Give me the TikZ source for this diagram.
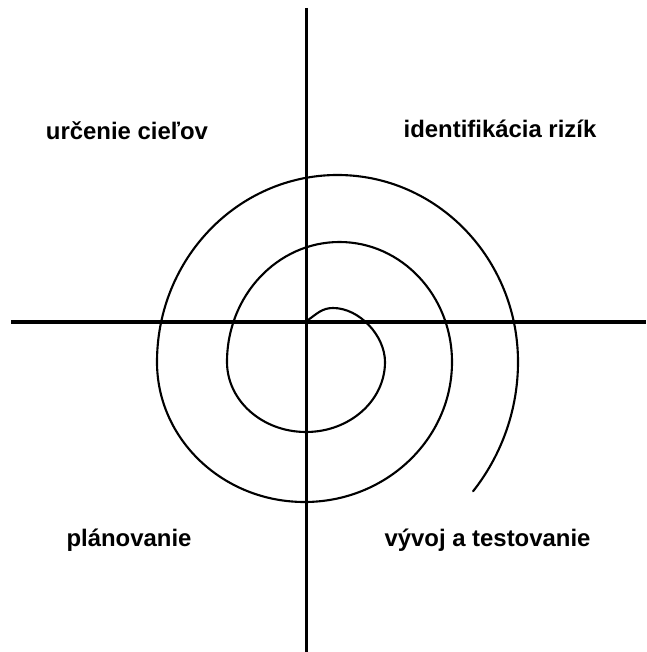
\documentclass[tikz,border=0pt]{standalone}
\usepackage{fontspec}
\setmainfont{Liberation Sans}
\usepackage{tikz}

\tikzset{
  axis/.style={line width=2.8pt,black},
  spiral/.style={line width=1.5pt,black,line cap=round},
  quadlabel/.style={anchor=base,inner sep=0pt,font=\fontsize{17}{20}\selectfont\bfseries}
}

\begin{document}
\begin{tikzpicture}[x=0.025cm,y=0.025cm]
\useasboundingbox (0,0) rectangle (646,652);
% axes
\coordinate (top) at (306.5,644);
\coordinate (bottom) at (306.5,0);
\coordinate (left) at (11,330);
\coordinate (right) at (646,330);
\draw[axis] (top) -- (bottom);
\draw[axis] (left) -- (right);
% spiral from the centre outwards
\coordinate (start) at (308,332);
\coordinate (inner top) at (333,344);
\coordinate (inner right) at (385,290);
\draw[spiral] (start) to[out=35,in=180] (inner top) to[out=0,in=90,looseness=0.9] (inner right)
  arc[start angle=0,end angle=-180,x radius=79,y radius=70]
  arc[start angle=180,end angle=0,x radius=112.5,y radius=120]
  arc[start angle=0,end angle=-180,x radius=147.5,y radius=140]
  arc[start angle=180,end angle=0,x radius=180.5,y radius=187]
  arc[start angle=0,end angle=-38,x radius=212,y radius=210];
% quadrant labels
\node[quadlabel] (goals) at (127,512) {určenie cieľov};
\node[quadlabel] (risks) at (500,514) {identifikácia rizík};
\node[quadlabel] (plan) at (129,105) {plánovanie};
\node[quadlabel] (dev) at (487.5,105) {vývoj a testovanie};
\end{tikzpicture}
\end{document}
